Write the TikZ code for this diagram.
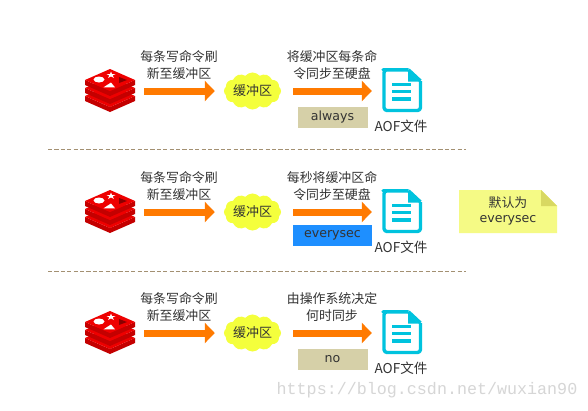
\documentclass[tikz,border=0pt]{standalone}
\usepackage{fontspec}
\setmainfont{Noto Sans CJK SC}
\newfontfamily\latinf{DejaVu Sans}
\newfontfamily\wmf{Liberation Mono}
\usetikzlibrary{arrows.meta,shapes.symbols}
\definecolor{txt}{HTML}{333333}
\definecolor{flowc}{HTML}{FF7A00}
\definecolor{cloudc}{HTML}{F4FF3C}
\definecolor{docc}{HTML}{00C3DE}
\definecolor{boxc}{HTML}{D6D0A8}
\definecolor{bluec}{HTML}{1E8FFF}
\definecolor{rulec}{HTML}{A39072}
\definecolor{notec}{HTML}{F5FA85}
\definecolor{foldc}{HTML}{D8D862}
\definecolor{rtop}{HTML}{EE0000}
\definecolor{rside}{HTML}{C40000}
\definecolor{rdark}{HTML}{8A0000}
\tikzset{
  x=1pt,y=-1pt,
  label text/.style={text=txt,inner sep=0,align=center,font=\fontsize{12.9}{16.6}\selectfont},
  latin text/.style={text=txt,inner sep=0,align=center,font=\latinf\fontsize{12.6}{16.6}\selectfont},
  flow/.style={draw=flowc,line width=7pt,-{Triangle[length=10pt,width=20pt]}},
  anchorbox/.style={inner sep=0,minimum width=#1,minimum height=40pt},
  buffer/.style={cloud,cloud puffs=12,cloud puff arc=100,aspect=1.75,fill=cloudc,inner sep=0,minimum width=52pt,minimum height=30pt,text=txt,font=\fontsize{13}{15}\selectfont},
  tag/.style={inner sep=0,minimum height=#1,text=txt,font=\latinf\fontsize{12.6}{14}\selectfont},
  divider/.style={draw=rulec,line width=0.8pt,dash pattern=on 4.2pt off 2.2pt},
  bar/.style={fill=docc},
}
\newcommand{\redislayer}[1]{%
  \fill[rside] (85,80+#1) -- (110,91+#1) -- (135,80+#1) -- (135,85+#1) -- (110,96+#1) -- (85,85+#1) -- cycle;
  \fill[rtop] (110,69+#1) -- (135,80+#1) -- (110,91+#1) -- (85,80+#1) -- cycle;
}
\begin{document}
\begin{tikzpicture}
\useasboundingbox[fill=white] (0,0) rectangle (588,410);
\foreach \i/\off/\ta/\boxy/\boxw/\boxf/\boxt in {%
  1/0/{将缓冲区每条命\\令同步至硬盘}/117.5/70/boxc/always,
  2/121/{每秒将缓冲区命\\令同步至硬盘}/114/79/bluec/everysec,
  3/242/{由操作系统决定\\何时同步}/117.5/70/boxc/no}{
\begin{scope}[shift={(0,\off)}]
  % redis stack
  \redislayer{16}
  \redislayer{8}
  \redislayer{0}
  \fill[white] (99,79.5) ellipse [x radius=5.5pt,y radius=3pt];
  \fill[white] (111,71.5) -- (112,74) -- (115.5,74) -- (112.7,75.5) -- (114,78) -- (111,76.4) -- (108,78) -- (109.3,75.5) -- (106.5,74) -- (110,74) -- cycle;
  \fill[white] (111,82.5) -- (115,87.3) -- (103.5,87.3) -- cycle;
  \fill[rdark] (119,77) -- (127,80) -- (119,83) -- cycle;
  \node[anchorbox=50pt] (redis\i) at (110,91) {};
  % buffer
  \node[buffer] (buffer\i) at (252.5,91) {缓冲区};
  % document icon
  \draw[docc,line width=3.4pt,line join=round,rounded corners=3pt] (408.5,69.8) -- (386,69.8) -- (384,69.8) -- (384,110.5) -- (420.5,110.5) -- (420.5,81);
  \draw[docc,line width=3.4pt,line join=round] (408.5,69.8) -- (420.5,81);
  \fill[docc] (408,71) -- (408,81.5) -- (419,81.5) -- cycle;
  \fill[bar] (392,82.5) rectangle (411,86);
  \fill[bar] (392,89.8) rectangle (411,93.2);
  \fill[bar] (392,97) rectangle (411,100.5);
  \node[anchorbox=40pt] (doc\i) at (402,91) {};
  % connectors
  \draw[flow,shorten <=9pt,shorten >=9pt] (redis\i.east) -- (buffer\i.west);
  \draw[flow,shorten <=12pt,shorten >=10pt] (buffer\i.east) -- (doc\i.west);
  % labels
  \node[label text] (write\i) at (179,65) {每条写命令刷\\新至缓冲区};
  \node[label text] (sync\i) at (332,65) {\ta};
  \node[label text,font=\fontsize{13.6}{16}\selectfont] (aof\i) at (401,126) {AOF文件};
  \node[tag=21pt,minimum width=\boxw pt,fill=\boxf] (mode\i) at (332.5,\boxy) {\raisebox{-1.5pt}{\boxt}};
\end{scope}
}
\coordinate (ruleAa) at (48,149.5);
\coordinate (ruleAb) at (466,149.5);
\coordinate (ruleBa) at (48,271.5);
\coordinate (ruleBb) at (466,271.5);
\draw[divider] (ruleAa) -- (ruleAb);
\draw[divider] (ruleBa) -- (ruleBb);
% note
\fill[notec] (459,190) -- (541,190) -- (557,206) -- (557,233) -- (459,233) -- cycle;
\fill[foldc] (541,190) -- (557,206) -- (541,206) -- cycle;
\node[label text] (notea) at (508,203) {默认为};
\node[latin text] (noteb) at (508,220) {everysec};
% watermark
\node[inner sep=0,text=black!16,font=\wmf\fontsize{16.7}{18}\selectfont] (mark) at (427,390) {https://blog.csdn.net/wuxian90};
\end{tikzpicture}
\end{document}
